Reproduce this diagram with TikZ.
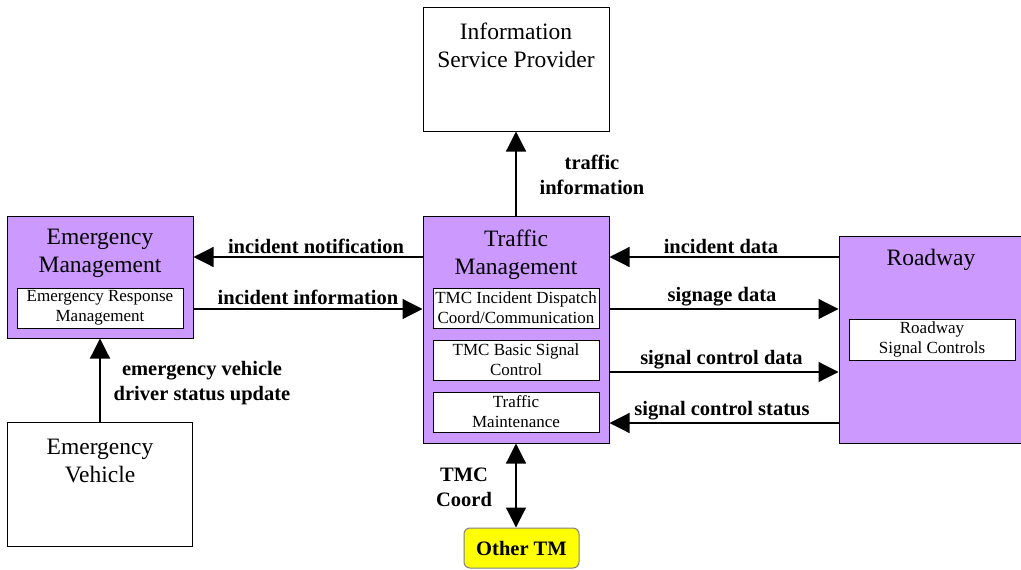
\documentclass[tikz,border=0pt]{standalone}
\usepackage{fontspec}
\setmainfont{Liberation Serif}
\usetikzlibrary{arrows.meta,positioning}
\definecolor{mgmtpurple}{RGB}{204,153,255}
\definecolor{othertm}{RGB}{255,255,0}
\tikzset{>={Triangle[length=20pt,width=20pt]}}
\newcommand{\bigtxt}{\fontsize{23.5}{28}\selectfont}
\newcommand{\subtxt}{\fontsize{17}{20}\selectfont}
\newcommand{\flowtxt}{\fontsize{20.5}{25}\selectfont\bfseries}
\tikzstyle{entity}=[rectangle,draw=black,line width=1pt,fill=white,inner sep=0pt]
\tikzstyle{mgmt}=[entity,fill=mgmtpurple]
\tikzstyle{process}=[rectangle,draw=black,line width=0.8pt,fill=white,minimum width=166pt,minimum height=40pt,inner sep=0pt,align=center,font=\subtxt]
\tikzstyle{boxtitle}=[align=center,font=\bigtxt,inner sep=0pt]
\tikzstyle{flowlabel}=[align=center,font=\flowtxt,inner sep=0pt]
\tikzstyle{peer}=[rectangle,draw=gray,line width=1pt,fill=othertm,rounded corners=6pt,minimum width=115pt,minimum height=40pt,font=\flowtxt]
\tikzstyle{link}=[line width=1.2pt]

\begin{document}
\begin{tikzpicture}[x=1pt,y=-1pt]
	\useasboundingbox (0,0) rectangle (1021,570);
	\def \ynotif {257};
	\def \yinfo {309};
	\def \ysigdata {372};
	\def \ysigstat {423};

	% boxes
	\node[entity,minimum width=186pt,minimum height=124pt] (isp) at (516,69) {};
	\node[boxtitle] (isptitle) at (516,45) {Information\\Service Provider};

	\node[mgmt,minimum width=186pt,minimum height=227pt] (tm) at (516,329.5) {};
	\node[boxtitle] (tmtitle) at (516,255) {Traffic\\Management};
	\node[process] (dispatch) at (516,308) {TMC Incident Dispatch\\Coord/Communication};
	\node[process] (signal) at (516,360) {TMC Basic Signal\\Control};
	\node[process] (maint) at (516,412) {Traffic\\Maintenance};

	\node[mgmt,minimum width=186pt,minimum height=122pt] (em) at (100,277) {};
	\node[boxtitle] (emtitle) at (100,253) {Emergency\\Management};
	\node[process,minimum width=166pt] (erm) at (100,308) {Emergency Response\\Management};

	\node[mgmt,minimum width=183pt,minimum height=207pt] (road) at (930.5,339.5) {};
	\node[boxtitle] (roadtitle) at (931,260) {Roadway};
	\node[process,minimum width=166pt,minimum height=41pt] (rsc) at (932,339.5) {Roadway\\Signal Controls};

	\node[entity,minimum width=185pt,minimum height=124pt] (ev) at (100,484) {};
	\node[boxtitle] (evtitle) at (100,461) {Emergency\\Vehicle};

	\node[peer] (othertm) at (521.5,548) {Other TM};

	% flows
	\draw[link,->] (tm.north) -- (isp.south);
	\draw[link,->] (tm.west |- 0,\ynotif) -- (em.east |- 0,\ynotif);
	\draw[link,->] (em.east |- 0,\yinfo) -- (tm.west |- 0,\yinfo);
	\draw[link,->] (ev.north) -- (em.south);
	\draw[link,->] (road.west |- 0,\ynotif) -- (tm.east |- 0,\ynotif);
	\draw[link,->] (tm.east |- 0,\yinfo) -- (road.west |- 0,\yinfo);
	\draw[link,->] (tm.east |- 0,\ysigdata) -- (road.west |- 0,\ysigdata);
	\draw[link,->] (road.west |- 0,\ysigstat) -- (tm.east |- 0,\ysigstat);
	\draw[link,<->] (tm.south) -- (tm.south |- othertm.north);

	% labels
	\node[flowlabel] (trafficinfo) at (592,175) {traffic\\information};
	\node[flowlabel] (incnotif) at (316,246) {incident notification};
	\node[flowlabel] (incinfo) at (308,297) {incident information};
	\node[flowlabel] (evstatus) at (202,383) {emergency vehicle\\driver status update};
	\node[flowlabel] (incdata) at (721,246) {incident data};
	\node[flowlabel] (signage) at (722,297) {signage data};
	\node[flowlabel] (sigdata) at (721.5,360) {signal control data};
	\node[flowlabel] (sigstat) at (722,411) {signal control status};
	\node[flowlabel] (tmccoord) at (464,487) {TMC\\Coord};
\end{tikzpicture}
\end{document}
